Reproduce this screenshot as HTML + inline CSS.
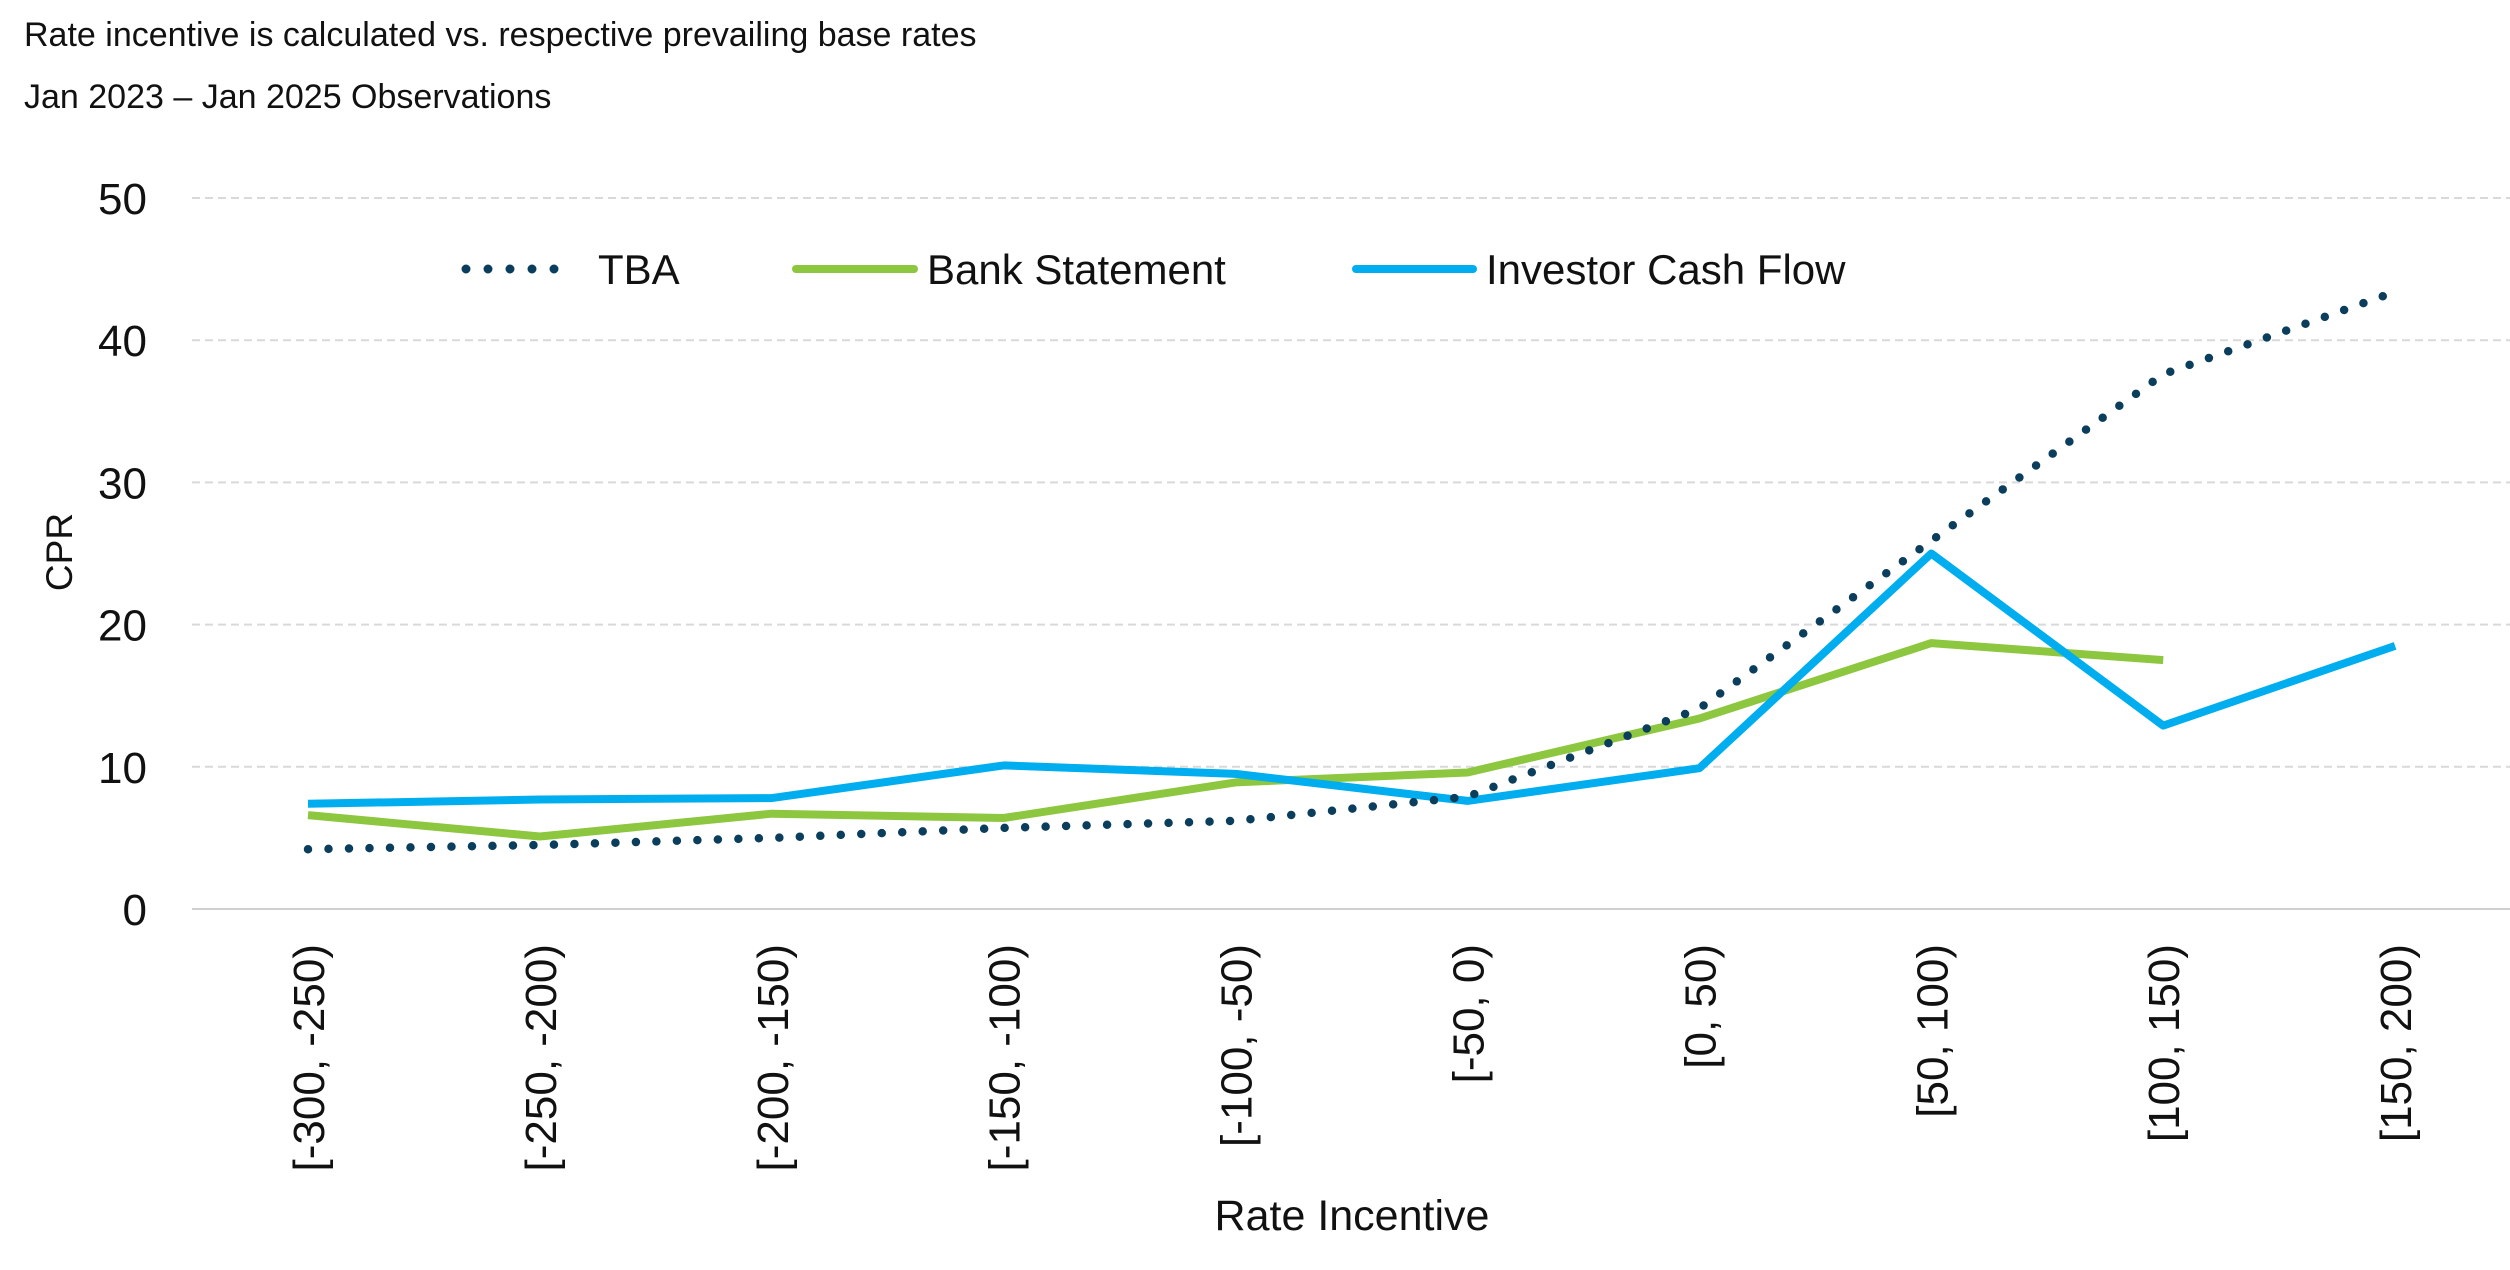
<!DOCTYPE html>
<html><head><meta charset="utf-8"><style>
html,body{margin:0;padding:0;background:#fff;}
svg{display:block;font-family:"Liberation Sans Narrow","Liberation Sans",sans-serif;}
</style></head><body>
<svg id="chart" width="2510" height="1270" viewBox="0 0 2510 1270">
<text x="24" y="46" font-size="34" fill="#111">Rate incentive is calculated vs. respective prevailing base rates</text>
<text x="24" y="108" font-size="34" fill="#111">Jan 2023 – Jan 2025 Observations</text>
<g id="grid"></g>
<g id="yticks"></g>
<g id="xticks"></g>
<g id="series"></g>
<text transform="translate(72,552) rotate(-90)" text-anchor="middle" font-size="37" fill="#111">CPR</text>
<text x="1352" y="1230" text-anchor="middle" font-size="43" fill="#111">Rate Incentive</text>
<g>
 <g>
  <line x1="466" y1="269" x2="576" y2="269" stroke="#0a3e5c" stroke-width="9" stroke-linecap="round" stroke-dasharray="0 22"/>
  <text x="598" y="284" font-size="42" fill="#111">TBA</text>
 </g>
 <g>
  <line x1="796" y1="269" x2="914" y2="269" stroke="#8dc63f" stroke-width="8" stroke-linecap="round"/>
  <text x="927" y="284" font-size="42" fill="#111">Bank Statement</text>
 </g>
 <g>
  <line x1="1356" y1="269" x2="1473" y2="269" stroke="#00aeef" stroke-width="8" stroke-linecap="round"/>
  <text x="1486" y="284" font-size="42" fill="#111">Investor Cash Flow</text>
 </g>
</g>
</svg>
<script>
const categories = ["[-300, -250)","[-250, -200)","[-200, -150)","[-150, -100)","[-100, -50)","[-50, 0)","[0, 50)","[50, 100)","[100, 150)","[150, 200)"];
const tbaValues = [4.2, 4.5, 5.0, 5.7, 6.2, 7.9, 14.1, 25.9, 37.6, 43.4];
const bankValues = [6.6, 5.1, 6.7, 6.4, 8.9, 9.6, 13.4, 18.7, 17.5, null];
const investorValues = [7.4, 7.7, 7.8, 10.1, 9.5, 7.6, 9.9, 25.0, 12.9, 18.5];
const yTicks = [0, 10, 20, 30, 40, 50];

const NS = "http://www.w3.org/2000/svg";
const plotL = 192, plotR = 2510, y0 = 909, yTop = 198, yMax = 50;
const firstX = 308, stepX = 231.9;
function xScale(i){ return firstX + i*stepX; }
function yScale(v){ return y0 - (v / yMax) * (y0 - yTop); }
function mk(tag, attrs, parent){ const e = document.createElementNS(NS, tag); for (const k in attrs) e.setAttribute(k, attrs[k]); parent.appendChild(e); return e; }

const grid = document.getElementById('grid');
const yt = document.getElementById('yticks');
yTicks.forEach(t => {
  const y = yScale(t);
  const ln = mk('line', {x1: plotL, x2: plotR, y1: y, y2: y, stroke: t === 0 ? '#d0d0d0' : '#d9d9d9', 'stroke-width': 2, 'stroke-dasharray': t === 0 ? 'none' : '8 5'}, grid);
  
  
  const tx = mk('text', {x: 147, y: y + 16, 'text-anchor': 'end', 'font-size': 44, fill: '#111'}, yt);
  tx.textContent = t;
  
  
});

const xt = document.getElementById('xticks');
categories.forEach((c, i) => {
  const x = xScale(i);
  const tx = mk('text', {transform: 'translate(' + (x + 16) + ',944) rotate(-90)', 'text-anchor': 'end', 'font-size': 44, fill: '#111'}, xt);
  tx.textContent = c;
  
  
});

function pathFor(vals){
  let d = '', started = false;
  vals.forEach((v, i) => {
    if (v === null || v === undefined) { started = false; return; }
    d += (started ? 'L' : 'M') + xScale(i).toFixed(1) + ',' + yScale(v).toFixed(1) + ' ';
    started = true;
  });
  return d;
}
const sg = document.getElementById('series');
const bank = mk('path', {d: pathFor(bankValues), fill: 'none', stroke: '#8dc63f', 'stroke-width': 8, 'stroke-linejoin': 'round', 'stroke-linecap': 'butt'}, sg);


const inv = mk('path', {d: pathFor(investorValues), fill: 'none', stroke: '#00aeef', 'stroke-width': 8, 'stroke-linejoin': 'round', 'stroke-linecap': 'butt'}, sg);


const tba = mk('path', {d: pathFor(tbaValues), fill: 'none', stroke: '#0a3e5c', 'stroke-width': 8.5, 'stroke-linecap': 'round', 'stroke-dasharray': '0 20.5'}, sg);


</script>
</body></html>
